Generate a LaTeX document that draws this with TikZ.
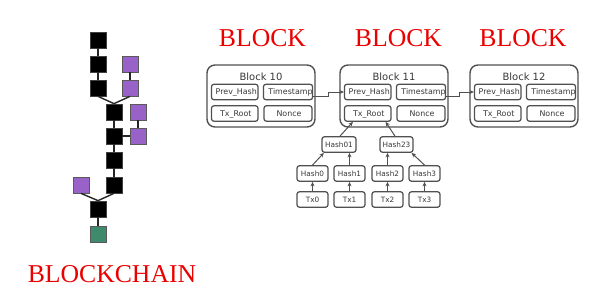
\documentclass[tikz,border=0pt]{standalone}
\usepackage{fontspec}
\setsansfont{DejaVu Sans}
\newfontfamily\redserif{Liberation Serif}
\usetikzlibrary{calc,arrows.meta}
\definecolor{chainpurple}{RGB}{153,98,200}
\definecolor{chaingreen}{RGB}{62,138,108}
\definecolor{boxgray}{RGB}{80,80,80}
\definecolor{txtgray}{RGB}{55,55,55}
\definecolor{bigred}{RGB}{235,0,0}
\tikzset{
  sq/.style={minimum size=16pt,inner sep=0pt,draw=black!75,line width=0.7pt},
  blacksq/.style={sq,fill=black},
  purplesq/.style={sq,fill=chainpurple,draw=black!65},
  greensq/.style={sq,fill=chaingreen,draw=black!65},
  link/.style={line width=1.4pt,black!85},
  bigtext/.style={inner sep=0pt,text=bigred,font=\redserif\fontsize{25.7}{30}\selectfont},
  outerbox/.style={draw=boxgray,line width=1.4pt,rounded corners=8pt,minimum width=108pt,minimum height=62pt,inner sep=0pt},
  blocktitle/.style={inner sep=0pt,text=txtgray,font=\sffamily\fontsize{10}{12}\selectfont},
  innerbox/.style={draw=boxgray,line width=1.25pt,rounded corners=2.5pt,minimum height=15.5pt,inner sep=0pt,text=txtgray,font=\sffamily\fontsize{7.9}{9}\selectfont,text height=5.7pt,text depth=0pt},
  mk/.style={innerbox,minimum width=31pt,font=\sffamily\fontsize{7.3}{9}\selectfont,text height=5.3pt},
  arr/.style={-{Stealth[length=4.5pt,width=4pt]},line width=1pt,boxgray},
}
\begin{document}
\begin{tikzpicture}[x=1pt,y=-1pt]
\useasboundingbox (0,0) rectangle (606,300);
% ---------- left chain ----------
\node[blacksq] (c1) at (98,40) {};
\node[blacksq] (c2) at (98,64) {};
\node[blacksq] (c3) at (98,88) {};
\node[purplesq] (p1) at (130,64) {};
\node[purplesq] (p2) at (130,88) {};
\node[blacksq] (c4) at (114,112) {};
\node[blacksq] (c5) at (114,136) {};
\node[purplesq] (p3) at (138,112) {};
\node[purplesq] (p4) at (138,136) {};
\node[blacksq] (c6) at (114,160) {};
\node[blacksq] (c7) at (114,185) {};
\node[purplesq] (p5) at (81,185) {};
\node[blacksq] (c8) at (98,209) {};
\node[greensq] (g1) at (98,234) {};
\draw[link] (c1.south) -- (c2.north);
\draw[link] (c2.south) -- (c3.north);
\draw[link] (p1.south) -- (p2.north);
\draw[link] (c3.south) -- (c4.north);
\draw[link] (p2.south) -- (c4.north);
\draw[link] (c4.south) -- (c5.north);
\draw[link] (p3.south) -- (p4.north);
\draw[link] (c5.east) -- (p4.west);
\draw[link] (c5.south) -- (c6.north);
\draw[link] (c6.south) -- (c7.north);
\draw[link] (c7.south) -- (c8.north);
\draw[link] (p5.south) -- (c8.north);
\draw[link] (c8.south) -- (g1.north);
\node[bigtext] (chainlabel) at (112,274) {BLOCKCHAIN};
% ---------- big labels ----------
\node[bigtext] (bl1) at (262.5,38.5) {BLOCK};
\node[bigtext] (bl2) at (398.5,38.5) {BLOCK};
\node[bigtext] (bl3) at (523,38.5) {BLOCK};
% ---------- blocks ----------
\foreach \n/\L in {10/207,11/340,12/470} {
  \node[outerbox] (b\n) at (\L+54,96) {};
  \node[blocktitle] (t\n) at (\L+54,77) {Block \n};
  \node[innerbox,minimum width=46.5pt] (ph\n) at (\L+27.75,92) {\hspace{3pt}Prev\_Hash};
  \node[innerbox,minimum width=48pt] (ts\n) at (\L+81,92) {\hspace{5pt}Timestamp};
  \node[innerbox,minimum width=46.5pt] (tr\n) at (\L+27.75,113.5) {\hspace{2pt}Tx\_Root};
  \node[innerbox,minimum width=48pt] (nc\n) at (\L+81,113.5) {\hspace{2pt}Nonce};
}
\draw[arr] ($(ts10.east)+(0,4)$) -- ++(15,0) |- (ph11.west);
\draw[arr] ($(ts11.east)+(0,4)$) -- ++(13,0) |- (ph12.west);
% ---------- merkle tree ----------
\node[mk,minimum width=34pt] (h01) at (339,144.5) {Hash01};
\node[mk,minimum width=33pt] (h23) at (396.5,144.5) {Hash23};
\node[mk] (h0) at (312.5,173.5) {Hash0};
\node[mk] (h1) at (349.5,173.5) {Hash1};
\node[mk] (h2) at (387.5,173.5) {Hash2};
\node[mk] (h3) at (424.5,173.5) {Hash3};
\node[mk] (x0) at (312.5,199.5) {Tx0};
\node[mk] (x1) at (349.5,199.5) {Tx1};
\node[mk] (x2) at (387.5,199.5) {Tx2};
\node[mk] (x3) at (424.5,199.5) {Tx3};
\draw[arr] (x0.north) -- (h0.south);
\draw[arr] (x1.north) -- (h1.south);
\draw[arr] (x2.north) -- (h2.south);
\draw[arr] (x3.north) -- (h3.south);
\draw[arr] (h0.north) -- ($(h01.south west)+(2.5,0)$);
\draw[arr] (h1.north) -- (h1.north |- h01.south);
\draw[arr] (h2.north) -- (h2.north |- h23.south);
\draw[arr] (h3.north) -- ($(h23.south east)+(-2,0)$);
\draw[arr] ($(h01.north)+(1,0)$) -- ($(tr11.south west)+(9,0)$);
\draw[arr] ($(h23.north)+(-1.5,0)$) -- ($(tr11.south east)+(-6,0)$);
\end{tikzpicture}
\end{document}
